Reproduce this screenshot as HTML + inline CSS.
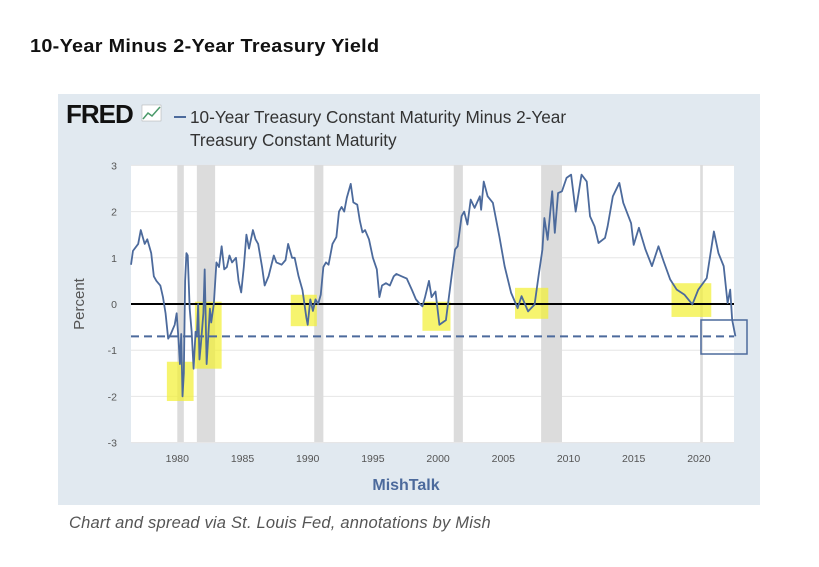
<!DOCTYPE html>
<html><head><meta charset="utf-8"><style>
body{margin:0;width:819px;height:567px;background:#fff;font-family:"Liberation Sans",sans-serif;overflow:hidden;position:relative}
#title{position:absolute;left:30px;top:36px;font-size:18px;font-weight:bold;color:#111;letter-spacing:0.3px;transform:scaleX(1.1);transform-origin:left}
#panel{position:absolute;left:58px;top:94px;width:702px;height:411px;background:#e1e9f0}
#caption{position:absolute;left:69px;top:514px;font-size:16.5px;font-style:italic;color:#555;letter-spacing:0.2px}
</style></head><body>
<div id="title">10-Year Minus 2-Year Treasury Yield</div>
<div id="panel"></div>
<svg id="chart" width="819" height="567" style="position:absolute;left:0;top:0">
<text x="66" y="123" font-size="26" font-weight="bold" fill="#111" font-family="Liberation Sans" letter-spacing="-1">FRED</text>
<g><rect x="142" y="105" width="19" height="16" fill="#fff" stroke="#aaa" stroke-width="0.5"/><polyline points="143,119 148,113 152,116 160,107" fill="none" stroke="#4a9a6a" stroke-width="1.5"/></g>
<line x1="174" y1="117" x2="186" y2="117" stroke="#4c6a9c" stroke-width="2"/>
<text x="190" y="123" font-size="17.2" fill="#333">10-Year Treasury Constant Maturity Minus 2-Year</text>
<text x="190" y="146" font-size="17.2" fill="#333">Treasury Constant Maturity</text>
<rect x="131" y="165" width="603" height="277" fill="#fff"/>
<g id="g"></g>
<text x="84" y="304" font-size="15" fill="#555" text-anchor="middle" transform="rotate(-90 84 304)">Percent</text>
<text x="406" y="490" font-size="16" font-weight="bold" fill="#4c6a9c" text-anchor="middle">MishTalk</text>
</svg>
<div id="caption">Chart and spread via St. Louis Fed, annotations by Mish</div>
<script>
const years=[1976.45,1976.6,1977.0,1977.2,1977.5,1977.7,1978.0,1978.2,1978.4,1978.7,1978.9,1979.1,1979.3,1979.5,1979.8,1979.95,1980.1,1980.2,1980.3,1980.4,1980.5,1980.6,1980.7,1980.8,1980.95,1981.1,1981.25,1981.4,1981.5,1981.6,1981.7,1981.8,1982.0,1982.1,1982.25,1982.5,1982.6,1982.8,1983.0,1983.2,1983.4,1983.6,1983.8,1984.0,1984.2,1984.5,1984.7,1984.9,1985.1,1985.3,1985.5,1985.8,1986.0,1986.2,1986.5,1986.7,1987.0,1987.4,1987.6,1988.0,1988.3,1988.5,1988.8,1989.0,1989.3,1989.6,1989.9,1990.0,1990.2,1990.4,1990.6,1990.8,1991.0,1991.2,1991.4,1991.6,1991.9,1992.2,1992.4,1992.6,1992.8,1993.0,1993.3,1993.5,1993.8,1994.0,1994.2,1994.4,1994.7,1995.0,1995.3,1995.5,1995.7,1996.0,1996.3,1996.6,1996.8,1997.2,1997.6,1998.0,1998.3,1998.6,1998.8,1999.0,1999.3,1999.5,1999.8,2000.1,2000.6,2001.0,2001.3,2001.5,2001.8,2002.0,2002.25,2002.5,2002.8,2003.2,2003.3,2003.5,2003.8,2004.2,2004.7,2005.1,2005.6,2006.1,2006.4,2006.9,2007.4,2007.7,2008.0,2008.15,2008.4,2008.75,2008.95,2009.2,2009.5,2009.85,2010.2,2010.55,2011.0,2011.4,2011.65,2012.0,2012.3,2012.8,2013.0,2013.4,2013.9,2014.2,2014.8,2015.0,2015.4,2015.9,2016.4,2016.9,2017.3,2017.8,2018.3,2018.9,2019.5,2019.95,2020.6,2021.15,2021.5,2021.9,2022.2,2022.4,2022.55,2022.8];
const spread=[0.85,1.15,1.3,1.6,1.3,1.4,1.1,0.6,0.5,0.4,0.15,-0.2,-0.75,-0.65,-0.45,-0.2,-0.8,-1.3,-0.65,-2.0,-1.5,0.5,1.1,1.05,-0.1,-0.6,-1.4,-0.6,-0.7,0.0,-1.2,-0.9,-0.2,0.75,-1.3,-0.1,-0.4,0.0,0.9,0.8,1.25,0.75,0.8,1.05,0.9,1.0,0.5,0.25,0.8,1.5,1.2,1.6,1.4,1.3,0.8,0.4,0.6,1.05,0.9,0.85,0.95,1.3,1.0,1.0,0.6,0.3,-0.3,-0.45,0.1,-0.15,0.1,0.0,0.2,0.8,0.9,0.85,1.3,1.45,2.0,2.1,2.0,2.3,2.6,2.2,2.15,1.8,1.55,1.6,1.4,1.0,0.75,0.15,0.4,0.45,0.4,0.6,0.65,0.6,0.55,0.3,0.1,0.0,-0.05,0.15,0.5,0.15,0.27,-0.45,-0.35,0.53,1.18,1.25,1.9,2.0,1.72,2.26,2.08,2.33,2.04,2.65,2.33,2.19,1.46,0.82,0.24,-0.09,0.17,-0.16,-0.01,0.6,1.18,1.86,1.39,2.44,1.54,2.4,2.44,2.73,2.8,2.0,2.8,2.65,1.9,1.68,1.32,1.43,1.68,2.33,2.62,2.19,1.75,1.28,1.65,1.18,0.82,1.25,0.92,0.53,0.31,0.2,-0.01,0.31,0.56,1.57,1.1,0.82,0.02,0.31,-0.34,-0.7];
const yTicks=[3,2,1,0,-1,-2,-3];
const xTicks=[1980,1985,1990,1995,2000,2005,2010,2015,2020];
const recStart=[1980.0,1981.5,1990.5,2001.2,2007.9,2020.1];
const recEnd=[1980.5,1982.9,1991.2,2001.9,2009.5,2020.3];
const hlStart=[1979.2,1981.35,1988.7,1998.8,2005.9,2017.9];
const hlEnd=[1981.25,1983.4,1990.7,2000.95,2008.45,2020.95];
const hlTop=[-1.25,0.05,0.2,0.05,0.35,0.45];
const hlBot=[-2.1,-1.4,-0.48,-0.58,-0.32,-0.28];
const dashLevel=-0.7;
const X=y=>177.3+(y-1980)*13.04, Y=v=>304-v*46.2;
const NS='http://www.w3.org/2000/svg', g=document.getElementById('g');
function mk(t,a){const e=document.createElementNS(NS,t);for(const k in a)e.setAttribute(k,a[k]);g.appendChild(e);return e;}
yTicks.forEach(t=>{
 const l=mk('line',{x1:131,x2:734,y1:Y(t),y2:Y(t),stroke:'#e6e6e6'});
 
 
 const tx=mk('text',{x:117,y:Y(t)+4,'font-size':10.5,fill:'#555','text-anchor':'end'});tx.textContent=t;
 
 
});
xTicks.forEach(t=>{
 const tx=mk('text',{x:X(t),y:462,'font-size':10.5,fill:'#555','text-anchor':'middle'});tx.textContent=t;
 
 
});
recStart.forEach((s,i)=>{
 const w=Math.max(X(recEnd[i])-X(s),1.5);
 const r=mk('rect',{x:X(s),y:165,width:w,height:277,fill:'#dcdcdc'});
 
 
});
hlStart.forEach((s,i)=>{
 const r=mk('rect',{x:X(s),y:Y(hlTop[i]),width:X(hlEnd[i])-X(s),height:Y(hlBot[i])-Y(hlTop[i]),fill:'#f2ef30',opacity:0.7});
 
 
});
const z=mk('line',{x1:131,x2:734,y1:Y(0),y2:Y(0),stroke:'#000','stroke-width':2});


const d=mk('line',{x1:131,x2:734,y1:Y(dashLevel),y2:Y(dashLevel),stroke:'#4c6a9c','stroke-width':2,'stroke-dasharray':'8,5'});


const p=mk('polyline',{points:years.map((y,i)=>X(y)+','+Y(spread[i])).join(' '),fill:'none',stroke:'#4c6a9c','stroke-width':1.8,'stroke-linejoin':'round'});


const b=mk('rect',{x:701,y:320,width:46,height:34,fill:'none',stroke:'#4c6a9c','stroke-width':1.5});


</script>
</body></html>
